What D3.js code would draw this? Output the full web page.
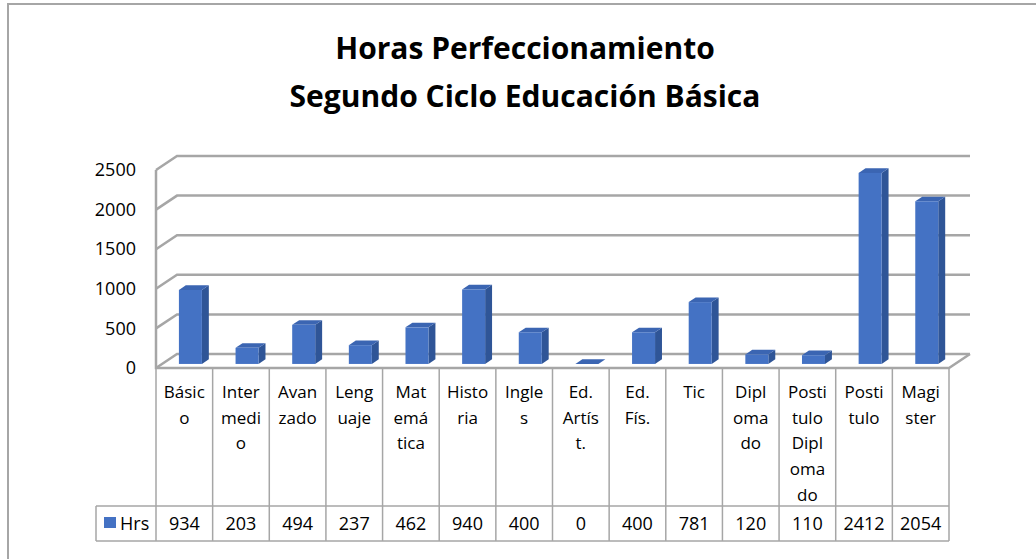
<!DOCTYPE html>
<html>
<head>
<meta charset="utf-8">
<script src="https://cdn.jsdelivr.net/npm/d3@7"></script>
<style>
  body { margin: 0; background: #fff; }
  svg text { font-family: "Open Sans", Carlito, Calibri, sans-serif; fill: #000; }
</style>
</head>
<body>
<div id="chart"></div>
<script>
    // Data
    var categories = ["Básico", "Intermedio", "Avanzado", "Lenguaje", "Matemática", "Historia", "Ingles",
                      "Ed. Artíst.", "Ed. Fís.", "Tic", "Diplomado", "Postitulo Diplomado", "Postitulo", "Magister"]
    var labelLines = [["Básic", "o"], ["Inter", "medi", "o"], ["Avan", "zado"], ["Leng", "uaje"], ["Mat", "emá", "tica"],
                      ["Histo", "ria"], ["Ingle", "s"], ["Ed.", "Artís", "t."], ["Ed.", "Fís."], ["Tic"],
                      ["Dipl", "oma", "do"], ["Posti", "tulo", "Dipl", "oma", "do"], ["Posti", "tulo"], ["Magi", "ster"]]
    var hrs = [934, 203, 494, 237, 462, 940, 400, 0, 400, 781, 120, 110, 2412, 2054]
    var yTicks = [0, 500, 1000, 1500, 2000, 2500]
    var seriesName = "Hrs"
    var titleLines = ["Horas Perfeccionamiento", "Segundo Ciclo Educación Básica"]

    canvas = ({width: 1036, height: 559})
    grey = "#a6a6a6"
    c_front = "#4472c4"
    c_side = "#2f5597"
    c_top = "#3b65b2"
    font = "'Open Sans', Carlito, Calibri, sans-serif"

    // 3D depth offsets (full depth of the floor, and the bar slab)
    depth = ({dx: 21, dy: -14})
    barFront = 0.29
    barBack = 0.62
    barWidth = 23

    var svg = d3.select("#chart").append("svg")
        .attr("width", canvas.width)
        .attr("height", canvas.height)

    // outer frame
    svg.append("path")
        .attr("fill", "none")
        .attr("stroke", grey)
        .attr("stroke-width", 2)
        .attr("d", `M8,${canvas.height} L8,4 L${canvas.width},4`)

    // title
    svg.append("g").selectAll("text")
        .data(titleLines)
        .join("text")
        .attr("x", 525)
        .attr("y", (d, i) => 59 + i * 48)
        .attr("text-anchor", "middle")
        .attr("font-size", 30)
        .attr("font-weight", "bold")
        .text(d => d)

    // scales
    x = d3.scaleBand()
        .domain(categories)
        .range([156, 949])

    y = d3.scaleLinear()
        .domain([0, 2500])
        .range([368, 170])

    // gridlines: side wall oblique + back wall horizontal
    var grid = svg.append("g")
        .attr("fill", "none")
        .attr("stroke", grey)
        .attr("stroke-width", 2.5)

    grid.selectAll("path")
        .data(yTicks)
        .join("path")
        .attr("d", d => `M${x.range()[0]},${y(d)} L${x.range()[0] + depth.dx},${y(d) + depth.dy} L${x.range()[1] + depth.dx},${y(d) + depth.dy}`)

    // floor front edge & right edge, side wall front edge
    grid.append("path")
        .attr("d", `M${x.range()[0]},${y(2500)} L${x.range()[0]},${y(0)} L${x.range()[1]},${y(0)} L${x.range()[1] + depth.dx},${y(0) + depth.dy}`)

    // y axis labels
    svg.append("g")
        .attr("transform", `translate(136,0)`)
        .call(d3.axisLeft(y).tickValues(yTicks).tickFormat(d3.format("d")).tickSize(0).tickPadding(0))
        .call(g => g.select(".domain").remove())
        .call(g => g.selectAll("text")
            .attr("font-size", 18)
            .attr("font-family", font)
            .attr("fill", "#000"))

    // bars
    var bars = svg.append("g").selectAll("g")
        .data(categories.map((c, i) => ({c: c, v: hrs[i]})))
        .join("g")

    function px(d, f) { return x(d.c) + x.bandwidth() / 2 - barWidth / 2 + f * depth.dx }
    function py(v, f) { return y(v) + f * depth.dy }

    // side face
    bars.append("path")
        .attr("fill", c_side)
        .attr("d", d => {
            var xr = px(d, barFront) + barWidth, xb = px(d, barBack) + barWidth
            return `M${xr},${py(0, barFront)} L${xr},${py(d.v, barFront)} L${xb},${py(d.v, barBack)} L${xb},${py(0, barBack)} Z`
        })
    // top face
    bars.append("path")
        .attr("fill", c_top)
        .attr("d", d => {
            var xl = px(d, barFront), xb = px(d, barBack)
            return `M${xl},${py(d.v, barFront)} L${xl + barWidth},${py(d.v, barFront)} L${xb + barWidth},${py(d.v, barBack)} L${xb},${py(d.v, barBack)} Z`
        })
    // front face
    bars.append("rect")
        .attr("fill", c_front)
        .attr("x", d => px(d, barFront))
        .attr("y", d => py(d.v, barFront))
        .attr("width", barWidth)
        .attr("height", d => py(0, barFront) - py(d.v, barFront))

    // data table
    var rowTop = 506, rowBot = 541, legendLeft = 96
    var table = svg.append("g")
        .attr("fill", "none")
        .attr("stroke", grey)
        .attr("stroke-width", 1.5)

    table.selectAll("line.v")
        .data(categories.concat(["end"]))
        .join("line")
        .attr("x1", (d, i) => i < categories.length ? x(d) : x.range()[1])
        .attr("x2", (d, i) => i < categories.length ? x(d) : x.range()[1])
        .attr("y1", y(0))
        .attr("y2", rowBot)

    table.append("path")
        .attr("d", `M${legendLeft},${rowTop} L${x.range()[1]},${rowTop} M${legendLeft},${rowBot} L${x.range()[1]},${rowBot} M${legendLeft},${rowTop} L${legendLeft},${rowBot}`)

    // header labels
    svg.append("g").selectAll("text")
        .data(categories)
        .join("text")
        .attr("text-anchor", "middle")
        .attr("font-size", 17)
        .attr("x", d => x(d) + x.bandwidth() / 2)
        .attr("y", 398)
        .each(function(d, i) {
            d3.select(this).selectAll("tspan")
                .data(labelLines[i])
                .join("tspan")
                .attr("x", x(d) + x.bandwidth() / 2)
                .attr("dy", (t, j) => j === 0 ? 0 : 25.7)
                .text(t => t)
        })

    // values row
    svg.append("g").selectAll("text")
        .data(hrs)
        .join("text")
        .attr("text-anchor", "middle")
        .attr("font-size", 18)
        .attr("x", (d, i) => x(categories[i]) + x.bandwidth() / 2)
        .attr("y", 530)
        .text(d => d)

    // legend key
    svg.append("rect")
        .attr("x", 104).attr("y", 517)
        .attr("width", 12).attr("height", 11)
        .attr("fill", c_front)
    svg.append("text")
        .attr("x", 120).attr("y", 530)
        .attr("font-size", 18)
        .text(seriesName)
</script>
</body>
</html>
